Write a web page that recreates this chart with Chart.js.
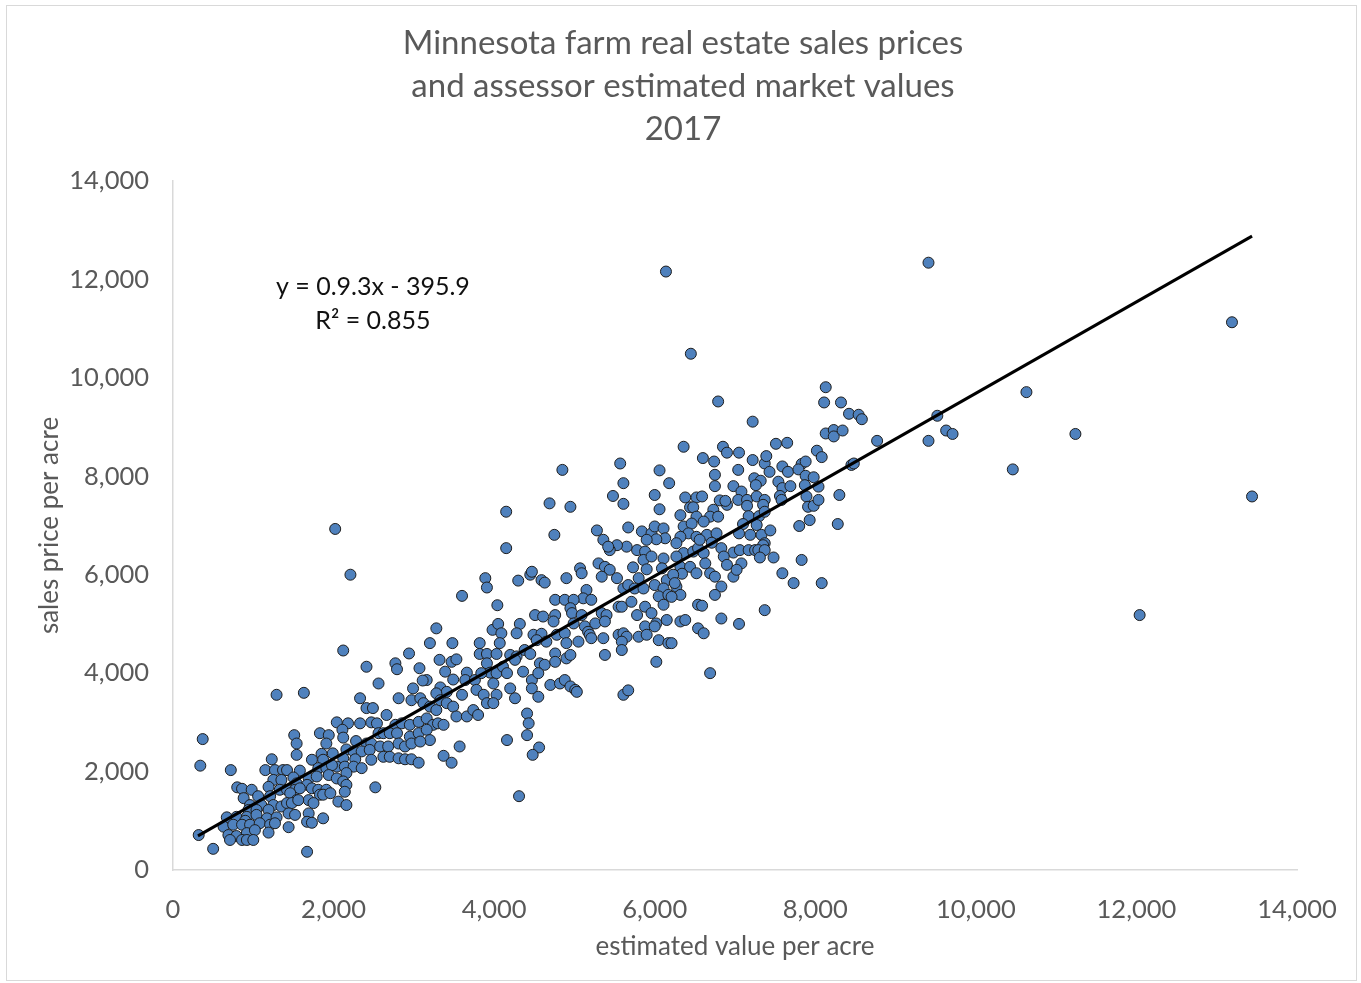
<!DOCTYPE html>
<html>
<head>
<meta charset="utf-8">
<title>Minnesota farm real estate 2017</title>
<script src="https://cdn.jsdelivr.net/npm/chart.js@4.4.1/dist/chart.umd.min.js"></script>
<style>
  html, body { margin: 0; padding: 0; background: #fff; }
  #chart { display: block; }
</style>
</head>
<body>
<canvas id="chart" width="1361" height="983"></canvas>
<script>
'use strict'

const titleLines = [
    'Minnesota farm real estate sales prices',
    'and assessor estimated market values',
    '2017'
];
const axisTicks = [0, 2000, 4000, 6000, 8000, 10000, 12000, 14000];
const xTitle = 'estimated value per acre';
const yTitle = 'sales price per acre';

// fitted line, two end points
const trendX = [311, 13440];
const trendY = [693, 12880];
const fitText = ['y = 0.9.3x - 395.9', 'R\u00b2 = 0.855'];

// [estimated value per acre, sales price per acre]
const sales = [
    [1290,3560],[1630,3600],[2330,3490],[2410,3290],[2490,3290],[2040,3000],[2180,2980],[2330,2980],[2470,3000],[2540,2980],
    [2110,2850],[1830,2780],[1940,2740],[1510,2740],[2120,2690],[370,2660],[2560,2780],[2280,2620],[2410,2570],[2470,2570],
    [1540,2570],[1910,2570],[2160,2450],[2250,2410],[2350,2410],[2450,2440],[1990,2370],[1540,2340],[1850,2360],[1730,2240],
    [1230,2250],[1870,2240],[2270,2250],[2470,2240],[2120,2270],[340,2120],[720,2030],[1150,2030],[1270,2030],[1370,2030],
    [1420,2030],[1580,2020],[1810,2070],[1910,2070],[2040,2100],[2140,2100],[2250,2100],[2350,2070],[1980,2130],[1250,1830],
    [1350,1830],[1500,1880],[1690,1860],[1790,1900],[1940,1930],[2040,1860],[2160,1970],[2120,1800],[1540,1760],[1670,1730],
    [800,1680],[860,1650],[980,1630],[1190,1690],[1330,1630],[1420,1630],[1520,1630],[1580,1660],[1730,1660],[1810,1630],
    [1910,1630],[2160,1730],[2520,1680],[880,1460],[1060,1500],[1210,1500],[1460,1560],[1540,1420],[1690,1420],[1830,1530],
    [1870,1530],[2140,1590],[2060,1390],[1750,1360],[1960,1560],[960,1320],[1100,1320],[1250,1320],[1350,1290],[1420,1360],
    [1480,1360],[1560,1420],[2160,1320],[940,1220],[1040,1220],[1190,1220],[670,1070],[790,1080],[920,1080],[1040,1120],
    [1170,1050],[1290,1070],[1440,1150],[1690,1150],[1870,1050],[1520,1120],[900,1000],[630,880],[750,920],[860,920],
    [960,920],[1080,950],[1210,920],[1670,980],[1730,960],[1440,870],[1270,950],[690,710],[790,690],[920,750],
    [1020,810],[1190,760],[320,710],[710,610],[860,610],[920,610],[1000,610],[500,430],[1670,370],

    [4040,5380],[3280,4910],[3980,4880],[4050,5000],[4090,4810],[4320,5000],[4280,4810],[4070,4610],[2120,4460],[3200,4610],
    [3480,4610],[3820,4610],[2940,4400],[3820,4390],[3910,4390],[4030,4390],[4200,4370],[4280,4340],[4380,4470],[2410,4130],
    [2770,4200],[2790,4080],[3320,4270],[3470,4230],[3530,4280],[3070,4100],[3390,4030],[3660,4010],[3910,4200],[3950,4010],
    [4030,4000],[4110,4130],[4160,4000],[4260,4270],[3990,3790],[4360,4030],[2560,3790],[3160,3860],[3110,3850],[3490,3870],
    [3640,3860],[3760,3860],[3840,4000],[2990,3690],[3330,3710],[3410,3620],[3280,3590],[3600,3560],[3780,3660],[3870,3560],
    [4030,3560],[4200,3690],[4260,3490],[2810,3490],[2970,3450],[3080,3490],[3120,3390],[3200,3320],[3280,3250],[3330,3450],
    [3410,3390],[3490,3320],[3530,3120],[3660,3120],[3740,3250],[3800,3150],[3910,3390],[3990,3390],[2660,3150],[2770,2950],
    [2850,2980],[2950,2950],[3060,3010],[3160,3080],[3240,2950],[3300,2980],[3370,2950],[4410,3180],[2620,2780],[2700,2780],
    [2790,2780],[2950,2710],[3060,2780],[3160,2850],[3200,2640],[4430,2980],[4410,2740],[3570,2510],[2580,2510],[2680,2510],
    [2810,2570],[2890,2510],[2970,2570],[3080,2610],[2620,2300],[2700,2300],[2810,2270],[2890,2250],[2970,2250],[3060,2180],
    [3370,2320],[3470,2180],[4160,2640],[4310,1500],[4560,2490],[4480,2340],

    [5610,7860],[5480,7600],[5610,7440],[6000,7620],[4150,7280],[4690,7450],[4950,7380],[6060,7330],[5280,6900],[5360,6710],
    [5670,6960],[4750,6810],[4150,6540],[5840,6880],[5960,6840],[6000,6980],[6110,6940],[6130,6740],[6020,6720],[5900,6710],
    [5780,6500],[5650,6570],[5530,6600],[5440,6500],[5420,6570],[5880,6470],[5860,6300],[5960,6370],[6110,6330],[6090,6130],
    [5300,6230],[5380,6160],[5440,6100],[5340,5960],[5530,5930],[5730,6150],[5900,6110],[5800,5930],[5070,6130],[5090,6030],
    [3890,5930],[3910,5740],[4300,5880],[4450,6000],[4470,6060],[4590,5890],[4630,5840],[4900,5930],[5610,5720],[5670,5790],
    [5750,5720],[5860,5720],[6000,5790],[6150,5890],[6110,5720],[6050,5560],[6170,5590],[5150,5690],[5110,5520],[5210,5490],
    [4760,5490],[4880,5490],[4990,5490],[4950,5320],[5550,5350],[5590,5350],[5710,5450],[5880,5350],[5960,5220],[6110,5390],
    [6020,5010],[6150,5080],[4510,5180],[4610,5150],[4760,5180],[4740,5050],[4970,5220],[4990,5010],[5090,5180],[5130,4950],
    [5260,5010],[5340,5220],[5400,5180],[5380,5050],[5780,5180],[5880,4950],[6000,4950],[4490,4780],[4590,4800],[4650,4640],
    [4530,4670],[4780,4780],[4880,4810],[4900,4610],[5050,4640],[5170,4840],[5190,4780],[5210,4710],[5360,4710],[5550,4780],
    [5610,4810],[5650,4740],[5590,4640],[5800,4740],[5900,4780],[6050,4670],[6170,4610],[4450,4390],[4570,4200],[4630,4170],
    [4760,4400],[4760,4230],[4900,4300],[4950,4370],[5380,4370],[5590,4470],[6020,4230],[4470,3860],[4550,4000],[4470,3690],
    [4550,3520],[4700,3760],[4820,3790],[4880,3860],[4950,3730],[5010,3660],[5030,3620],[5610,3560],[5670,3650],[4850,8130],

    [5570,8260],[6060,8120],[6180,7860],[6360,8600],[6380,7570],[6520,7570],[6440,7370],[6480,7370],[6320,7210],[6360,6980],
    [6520,7180],[6460,7040],[6420,6840],[6520,6770],[6320,6770],[6270,6640],[6360,6440],[6480,6470],[6540,6540],[6270,6370],
    [6320,6160],[6440,6160],[6520,6030],[6340,6020],[6230,6000],[6270,5760],[6320,5590],[6210,5550],[6250,5830],[6540,5390],
    [6210,4610],[6320,5050],[6380,5080],[6540,4910],[6610,4810],[6690,4000],

    [8130,9810],[8110,9500],[8320,9500],[8420,9270],[8540,9250],[8580,9160],[6790,9520],[7220,9110],[8130,8870],[8230,8940],
    [8230,8810],[8340,8930],[8770,8720],[7510,8660],[7650,8680],[6600,8370],[6850,8600],[6900,8480],[7050,8480],[6740,8300],
    [7220,8330],[7370,8260],[7390,8410],[8020,8520],[8080,8390],[8450,8230],[8480,8260],[6750,8030],[6750,7800],[7040,8130],
    [7240,7960],[7320,7910],[7260,7820],[7430,8090],[7590,8200],[7660,8090],[7830,8250],[7790,8140],[7880,8010],[7980,7980],
    [7880,8300],[6980,7800],[7080,7690],[7040,7520],[7150,7520],[6590,7590],[6810,7510],[6900,7420],[6880,7500],[7540,7890],
    [7590,7760],[7690,7800],[7870,7820],[8040,7790],[7270,7590],[7370,7520],[7350,7420],[7150,7400],[7560,7600],[7580,7520],
    [7890,7590],[7910,7380],[7980,7400],[8040,7520],[8300,7620],[6730,7320],[6690,7180],[6790,7180],[6610,7080],[7170,7190],
    [7300,7190],[7370,7280],[7270,7010],[7100,7030],[7800,6990],[7930,7110],[8280,7030],[6650,6810],[6770,6840],[6710,6650],
    [6560,6710],[7050,6840],[7190,6810],[7330,6810],[7440,6900],[7370,6640],[7350,6600],[6830,6540],[6980,6450],[7060,6500],
    [7170,6500],[7250,6500],[7290,6500],[7370,6500],[6610,6440],[6630,6230],[6860,6370],[6900,6200],[7080,6230],[7310,6350],
    [7480,6350],[7830,6300],[6690,6030],[6750,5960],[6980,5960],[7020,6100],[6830,5760],[6750,5590],[7590,6030],[7730,5830],
    [8080,5830],[6590,5370],[7370,5280],[6830,5110],[7050,5000],

    [6140,12160],[6450,10490],[2020,6930],[2210,6000],[3600,5570],[9410,12340],[13190,11130],[10630,9710],[9520,9230],[9410,8720],
    [9630,8930],[9710,8860],[11240,8860],[10460,8140],[13440,7590],[12040,5180]
];

const grey = '#595959';
const face = 'Lato, "Open Sans", sans-serif';

// where the fit equation sits, in axis units
const fitAt = { x: 2490, y: [11850, 11160] };

const frame = {
    id: 'frame',
    beforeDraw(chart) {
        const c = chart.ctx;
        c.save();
        c.fillStyle = '#fff';
        c.fillRect(0, 0, chart.width, chart.height);
        c.strokeStyle = '#d9d9d9';
        c.lineWidth = 1;
        c.strokeRect(6.5, 5.5, 1350, 975);
        c.restore();
    },
    afterDraw(chart) {
        const c = chart.ctx;
        c.save();
        c.textAlign = 'center';
        c.textBaseline = 'middle';
        c.fillStyle = grey;
        c.font = '33px ' + face;
        titleLines.forEach((t, i) => c.fillText(t, 683, 43 + i * 43));

        const sx = chart.scales.x, sy = chart.scales.y;
        c.fillStyle = '#111';
        c.font = '25px ' + face;
        fitText.forEach((t, i) => c.fillText(t, sx.getPixelForValue(fitAt.x), sy.getPixelForValue(fitAt.y[i])));
        c.restore();
    }
};

const axis = (title, fit) => ({
    type: 'linear',
    min: axisTicks[0],
    max: axisTicks[axisTicks.length - 1],
    afterBuildTicks: s => { s.ticks = axisTicks.map(v => ({ value: v })); },
    afterFit: fit,
    grid: { display: false, drawTicks: false },
    border: { display: true, color: '#d9d9d9', width: 1.5 },
    ticks: {
        color: grey,
        font: { family: face, size: 25.5 },
        padding: 24,
        callback: v => v.toLocaleString('en-US')
    },
    title: {
        display: true,
        text: title,
        color: grey,
        font: { family: face, size: 26 },
        padding: { top: 2, bottom: 2 }
    }
});

const ctx = document.getElementById('chart').getContext('2d');
const myChart = new Chart(ctx, {
    type: 'scatter',
    data: {
        datasets: [{
            type: 'line',
            label: 'trend',
            data: trendX.map((x, i) => ({ x: x, y: trendY[i] })),
            borderColor: '#000',
            borderWidth: 3,
            pointRadius: 0,
            fill: false,
            order: 0
        }, {
            label: 'sales',
            data: sales.map(p => ({ x: p[0], y: p[1] })),
            backgroundColor: '#4f81bd',
            borderColor: '#1e1e1e',
            borderWidth: 1,
            pointRadius: 5.5,
            order: 1
        }]
    },
    options: {
        responsive: false,
        animation: false,
        devicePixelRatio: 1,
        layout: { padding: { top: 181, left: 32, right: 64, bottom: 19 } },
        plugins: {
            legend: { display: false },
            tooltip: { enabled: false }
        },
        scales: {
            x: axis(xTitle, s => { s.height = 983 - 870 - 19; }),
            y: axis(yTitle, s => { s.width = 173 - 32; })
        }
    },
    plugins: [frame]
});
</script>
</body>
</html>
